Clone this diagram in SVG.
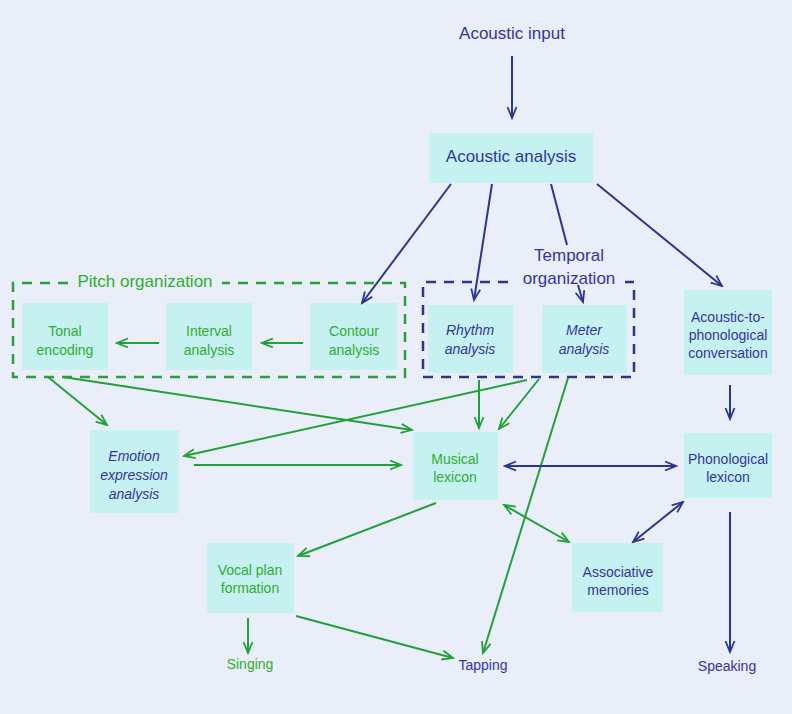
<svg xmlns="http://www.w3.org/2000/svg" width="792" height="714" viewBox="0 0 792 714">
<defs>
<style>
.bg{fill:#e9eef8}
.box{fill:#c6f1f1}
.t{font-family:"Liberation Sans",Arial,sans-serif;font-size:14px;text-anchor:middle}
.big{font-size:17px}
.it{font-style:italic}
.b{fill:#3434a6}
.g{fill:#2fae2f}
.lb{stroke:#2b3592;stroke-width:2;fill:none}
.lg{stroke:#22a03a;stroke-width:2;fill:none}
.db{stroke:#2b3592;stroke-width:2.5;fill:none;stroke-dasharray:10 8}
.dg{stroke:#2a9f3a;stroke-width:2.5;fill:none;stroke-dasharray:10 8}
</style>
<marker id="ab" markerWidth="14" markerHeight="12" refX="12" refY="6" orient="auto-start-reverse" markerUnits="userSpaceOnUse" viewBox="0 0 14 12">
<path d="M1,1.5 L12,6 L1,10.5" fill="none" stroke="#2b3592" stroke-width="1.8"/>
</marker>
<marker id="ag" markerWidth="14" markerHeight="12" refX="12" refY="6" orient="auto-start-reverse" markerUnits="userSpaceOnUse" viewBox="0 0 14 12">
<path d="M1,1.5 L12,6 L1,10.5" fill="none" stroke="#22a03a" stroke-width="1.8"/>
</marker>
</defs>
<rect class="bg" x="0" y="0" width="792" height="714"/>

<g id="groups">
<g id="pitch-organization">
<path class="dg" d="M68,283 L13,283 L13,377 L405,377 L405,283 L222,283"/>
<text class="t big g" x="145" y="287">Pitch organization</text>
</g>
<g id="temporal-organization">
<path class="db" d="M508,282 L423,282 L423,377 L634,377 L634,282 L625,282"/>
<text class="t big b" x="569" y="261">Temporal</text>
<text class="t big b" x="569" y="284">organization</text>
</g>
</g>

<g id="nodes">
<g id="acoustic-input"><text class="t big b" x="512" y="39">Acoustic input</text></g>
<g id="acoustic-analysis"><rect class="box" x="429" y="133" width="164" height="50"/><text class="t big b" x="511" y="162">Acoustic analysis</text></g>
<g id="tonal-encoding"><rect class="box" x="22" y="303" width="86" height="67"/><text class="t g" x="65" y="336">Tonal</text><text class="t g" x="65" y="355">encoding</text></g>
<g id="interval-analysis"><rect class="box" x="166" y="303" width="86" height="67"/><text class="t g" x="209" y="336">Interval</text><text class="t g" x="209" y="355">analysis</text></g>
<g id="contour-analysis"><rect class="box" x="310" y="303" width="87" height="67"/><text class="t g" x="354" y="336">Contour</text><text class="t g" x="354" y="355">analysis</text></g>
<g id="rhythm-analysis"><rect class="box" x="428" y="305" width="85" height="68"/><text class="t it b" x="470" y="335">Rhythm</text><text class="t it b" x="470" y="354">analysis</text></g>
<g id="meter-analysis"><rect class="box" x="542" y="305" width="85" height="68"/><text class="t it b" x="584" y="335">Meter</text><text class="t it b" x="584" y="354">analysis</text></g>
<g id="acoustic-to-phonological"><rect class="box" x="684" y="290" width="88" height="85"/><text class="t b" x="728" y="322">Acoustic-to-</text><text class="t b" x="728" y="340">phonological</text><text class="t b" x="728" y="358">conversation</text></g>
<g id="emotion-expression-analysis"><rect class="box" x="90" y="430" width="89" height="83"/><text class="t it b" x="134" y="461">Emotion</text><text class="t it b" x="134" y="480">expression</text><text class="t it b" x="134" y="499">analysis</text></g>
<g id="musical-lexicon"><rect class="box" x="413" y="432" width="85" height="68"/><text class="t g" x="455" y="464">Musical</text><text class="t g" x="455" y="482">lexicon</text></g>
<g id="phonological-lexicon"><rect class="box" x="684" y="433" width="88" height="65"/><text class="t b" x="728" y="464">Phonological</text><text class="t b" x="728" y="482">lexicon</text></g>
<g id="vocal-plan-formation"><rect class="box" x="207" y="543" width="87" height="70"/><text class="t g" x="250" y="575">Vocal plan</text><text class="t g" x="250" y="593">formation</text></g>
<g id="associative-memories"><rect class="box" x="572" y="543" width="91" height="69"/><text class="t b" x="618" y="577">Associative</text><text class="t b" x="618" y="595">memories</text></g>
<g id="singing"><text class="t g" x="250" y="669">Singing</text></g>
<g id="tapping"><text class="t b" x="483" y="670">Tapping</text></g>
<g id="speaking"><text class="t b" x="727" y="671">Speaking</text></g>
</g>

<g id="connectors">
<line class="lb" x1="512" y1="56" x2="512" y2="118" marker-end="url(#ab)"/>
<line class="lb" x1="451" y1="184" x2="362" y2="303" marker-end="url(#ab)"/>
<line class="lb" x1="492" y1="184" x2="474" y2="300" marker-end="url(#ab)"/>
<line class="lb" x1="551" y1="184" x2="567" y2="245"/>
<line class="lb" x1="578" y1="285" x2="583" y2="302" marker-end="url(#ab)"/>
<line class="lb" x1="597" y1="184" x2="722" y2="286" marker-end="url(#ab)"/>
<line class="lg" x1="303" y1="343" x2="262" y2="343" marker-end="url(#ag)"/>
<line class="lg" x1="159" y1="343" x2="117" y2="343" marker-end="url(#ag)"/>
<line class="lg" x1="48" y1="377" x2="107" y2="425" marker-end="url(#ag)"/>
<line class="lg" x1="63" y1="377" x2="412" y2="430" marker-end="url(#ag)"/>
<line class="lg" x1="527" y1="380" x2="184" y2="456" marker-end="url(#ag)"/>
<line class="lg" x1="194" y1="465" x2="401" y2="465" marker-end="url(#ag)"/>
<line class="lg" x1="479" y1="380" x2="479" y2="428" marker-end="url(#ag)"/>
<line class="lg" x1="539" y1="379" x2="499" y2="429" marker-end="url(#ag)"/>
<line class="lg" x1="568" y1="378" x2="483" y2="653" marker-end="url(#ag)"/>
<line class="lg" x1="436" y1="503" x2="298" y2="556" marker-end="url(#ag)"/>
<line class="lg" x1="504" y1="505" x2="569" y2="542" marker-start="url(#ag)" marker-end="url(#ag)"/>
<line class="lb" x1="505" y1="466" x2="676" y2="466" marker-start="url(#ab)" marker-end="url(#ab)"/>
<line class="lb" x1="683" y1="502" x2="633" y2="542" marker-start="url(#ab)" marker-end="url(#ab)"/>
<line class="lb" x1="730" y1="385" x2="730" y2="419" marker-end="url(#ab)"/>
<line class="lb" x1="730" y1="512" x2="730" y2="652" marker-end="url(#ab)"/>
<line class="lg" x1="248" y1="618" x2="248" y2="653" marker-end="url(#ag)"/>
<line class="lg" x1="296" y1="616" x2="453" y2="658" marker-end="url(#ag)"/>
</g>
</svg>
